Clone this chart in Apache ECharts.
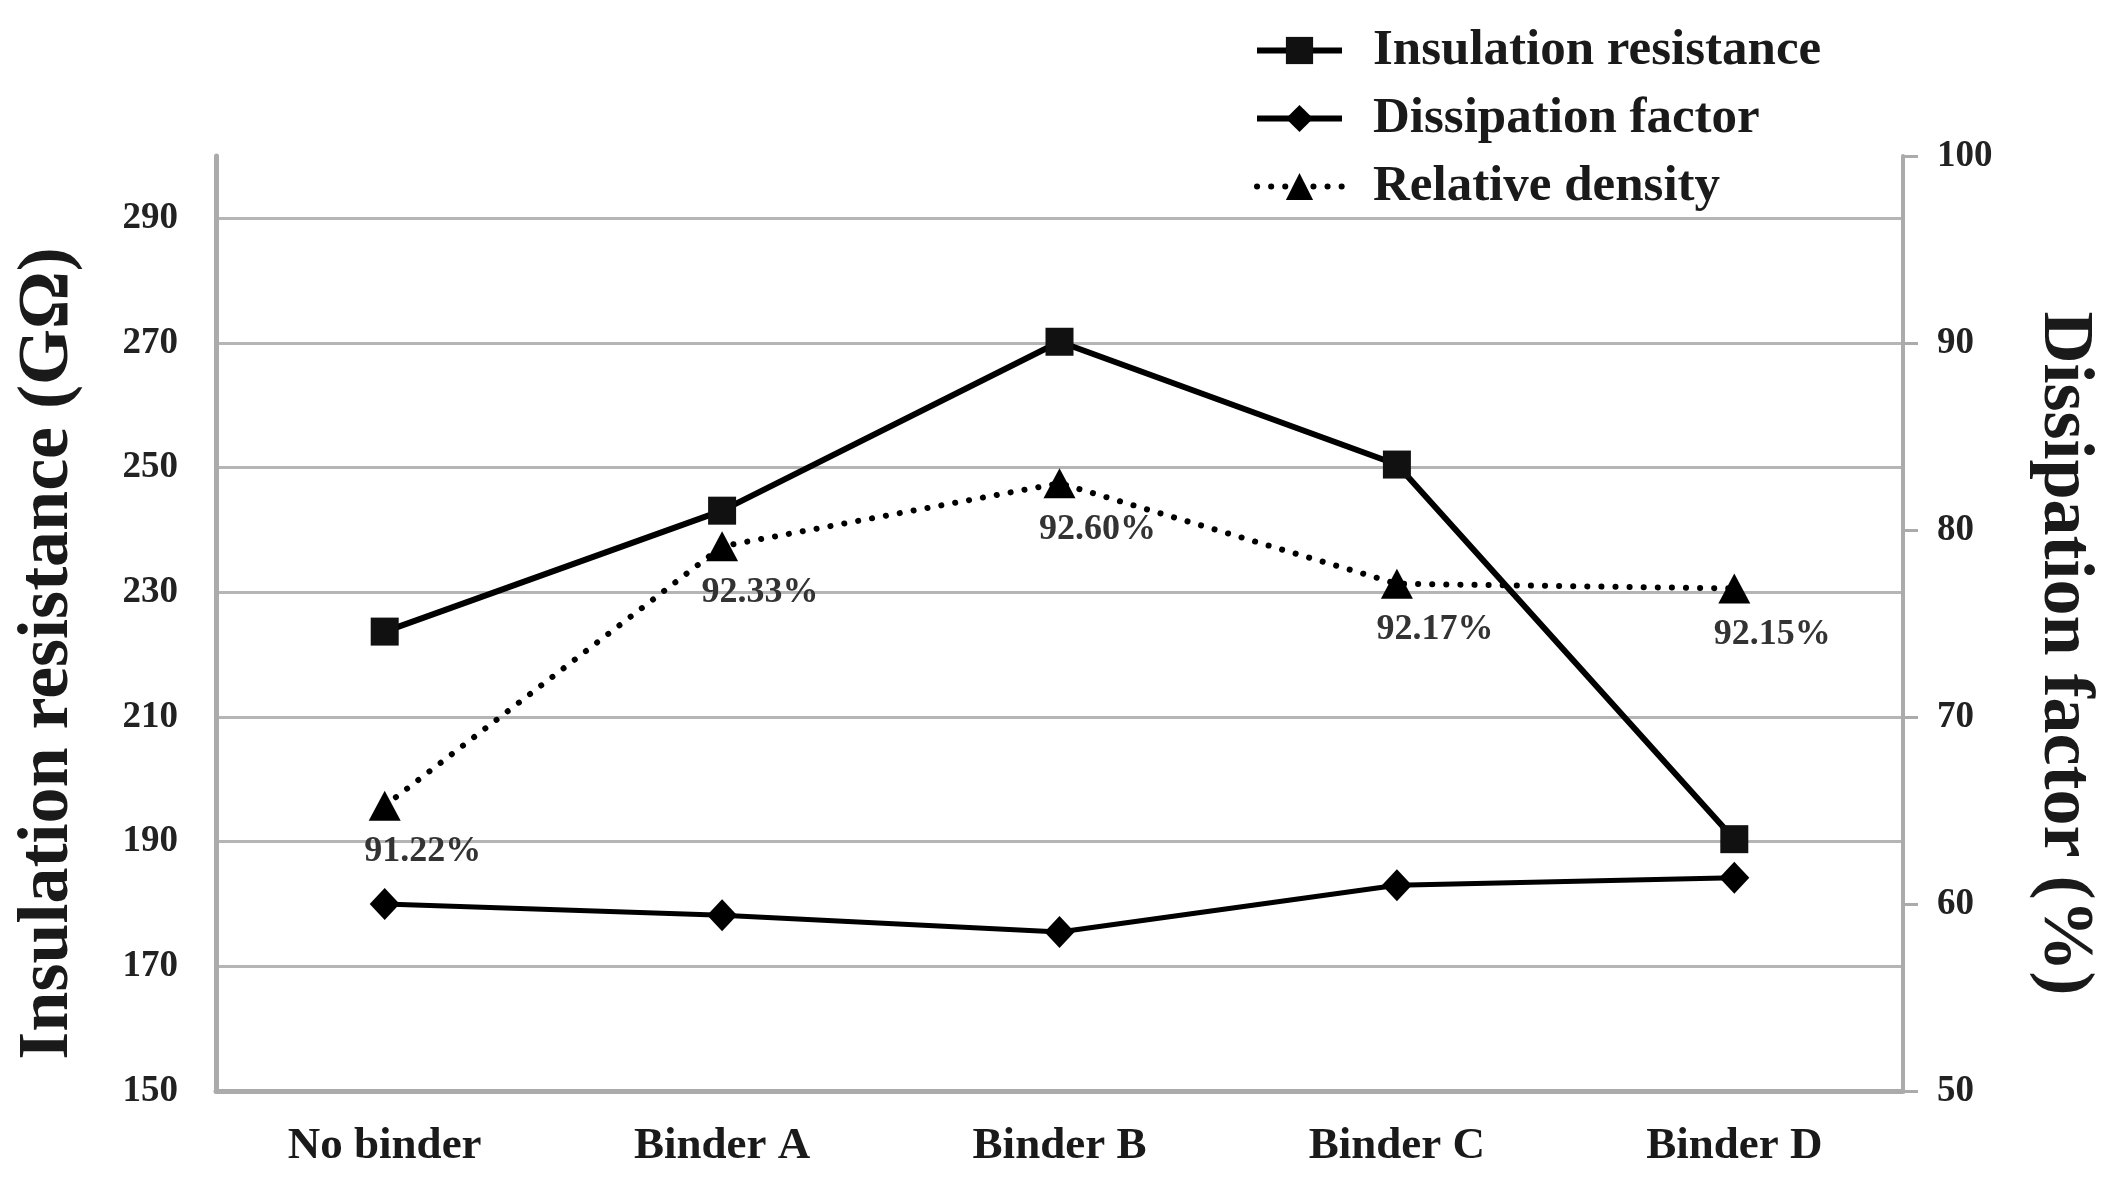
<!DOCTYPE html>
<html>
<head>
<meta charset="utf-8">
<script src="https://cdn.jsdelivr.net/npm/echarts@6/dist/echarts.min.js"></script>
<style>
html,body{margin:0;padding:0;background:#fff;}
#chart{width:2124px;height:1188px;}
</style>
</head>
<body>
<div id="chart"></div>
<script>
const categories = ['No binder', 'Binder A', 'Binder B', 'Binder C', 'Binder D'];
const insulationResistance = [223.7, 243.1, 270.2, 250.5, 190.4];
const dissipationFactor = [60.0, 59.4, 58.5, 61.0, 61.4];
const relativeDensity = [91.22, 92.33, 92.60, 92.17, 92.15];
const seriesNames = ['Insulation resistance', 'Dissipation factor', 'Relative density'];
const leftAxisName = 'Insulation resistance (GΩ)';
const rightAxisName = 'Dissipation factor (%)';

const FONT = '"Liberation Serif", "Times New Roman", serif';
const AXIS_GRAY = '#ababab';
const GRID_GRAY = '#b5b5b5';

const chart = echarts.init(document.getElementById('chart'), null, {renderer: 'canvas'});
chart.setOption({
  backgroundColor: '#ffffff',
  animation: false,
  legend: {
    orient: 'vertical',
    left: 1249,
    top: 20,
    itemWidth: 85,
    itemHeight: 34,
    itemGap: 17,
    lineStyle: {width: 6},
    textStyle: {fontFamily: FONT, fontWeight: 'bold', fontSize: 51, color: '#1a1a1a', padding: [0, 0, 0, 26]},
    data: seriesNames
  },
  grid: {left: 216, right: 221, top: 156, bottom: 97},
  xAxis: {
    type: 'category',
    data: categories,
    boundaryGap: true,
    axisLine: {show: true, lineStyle: {color: AXIS_GRAY, width: 5}},
    axisTick: {show: false},
    axisLabel: {fontFamily: FONT, fontWeight: 'bold', fontSize: 45, color: '#1a1a1a', margin: 33},
    splitLine: {show: false}
  },
  yAxis: [
    {
      type: 'value',
      position: 'left',
      min: 150,
      max: 300,
      interval: 20,
      name: leftAxisName,
      nameLocation: 'middle',
      nameRotate: 90,
      nameGap: 132,
      nameTextStyle: {fontFamily: FONT, fontWeight: 'bold', fontSize: 72, color: '#1a1a1a', padding: [0, 60, 0, 0]},
      axisLine: {show: true, lineStyle: {color: AXIS_GRAY, width: 5}},
      axisTick: {show: false},
      axisLabel: {fontFamily: FONT, fontWeight: 'bold', fontSize: 37, color: '#222222', margin: 38, showMaxLabel: false},
      splitLine: {show: true, showMinLine: false, showMaxLine: false, lineStyle: {color: GRID_GRAY, width: 3}}
    },
    {
      type: 'value',
      position: 'right',
      min: 50,
      max: 100,
      interval: 10,
      name: rightAxisName,
      nameLocation: 'middle',
      nameRotate: -90,
      nameGap: 125,
      nameTextStyle: {fontFamily: FONT, fontWeight: 'bold', fontSize: 72, color: '#1a1a1a', padding: [0, 0, 0, 60]},
      axisLine: {show: true, lineStyle: {color: AXIS_GRAY, width: 4}},
      axisTick: {show: true, inside: false, length: 15, lineStyle: {color: AXIS_GRAY, width: 3}},
      axisLabel: {fontFamily: FONT, fontWeight: 'bold', fontSize: 37, color: '#222222', margin: 34},
      splitLine: {show: false}
    },
    {
      type: 'value',
      min: 90,
      max: 94,
      show: false,
      splitLine: {show: false}
    }
  ],
  series: [
    {
      name: seriesNames[0],
      type: 'line',
      yAxisIndex: 0,
      data: insulationResistance,
      symbol: 'rect',
      symbolSize: 28,
      itemStyle: {color: '#111111'},
      lineStyle: {color: '#000000', width: 6},
      z: 3
    },
    {
      name: seriesNames[1],
      type: 'line',
      yAxisIndex: 1,
      data: dissipationFactor,
      symbol: 'diamond',
      symbolSize: [30, 32],
      itemStyle: {color: '#000000'},
      lineStyle: {color: '#000000', width: 5},
      z: 3
    },
    {
      name: seriesNames[2],
      type: 'line',
      yAxisIndex: 2,
      data: relativeDensity,
      symbol: 'triangle',
      symbolSize: [32, 30],
      itemStyle: {color: '#000000'},
      lineStyle: {color: '#000000', width: 6, type: [0.1, 14], cap: 'round'},
      label: {
        show: true,
        position: 'bottom',
        distance: 13,
        offset: [38, 0],
        fontFamily: FONT,
        fontWeight: 'bold',
        fontSize: 36,
        color: '#333333',
        formatter: p => p.value.toFixed(2) + '%'
      },
      z: 4
    }
  ]
});
</script>
</body>
</html>
